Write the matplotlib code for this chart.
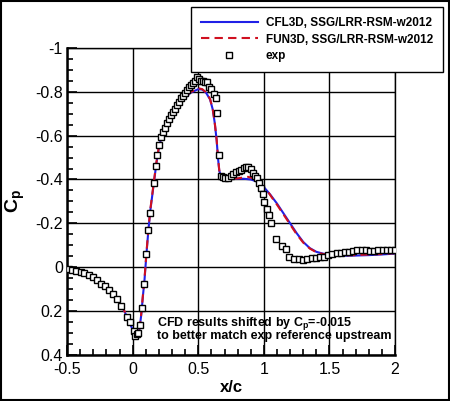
import matplotlib
matplotlib.use("Agg")
import matplotlib.pyplot as plt
from matplotlib.ticker import MultipleLocator, FuncFormatter
from matplotlib.patches import Rectangle

plt.rcParams['font.family'] = ['Liberation Sans', 'DejaVu Sans']
plt.rcParams['mathtext.fontset'] = 'custom'
plt.rcParams['mathtext.rm'] = 'Liberation Sans'
plt.rcParams['mathtext.bf'] = 'Liberation Sans:bold'

# CFL3D, SSG/LRR-RSM-w2012 (shifted)
cfl_x = [-0.5, -0.45, -0.4, -0.35, -0.3, -0.25, -0.2, -0.15, -0.1, -0.06,
         -0.03, 0.0, 0.02, 0.035, 0.05, 0.065, 0.08, 0.09, 0.105, 0.12,
         0.135, 0.15, 0.165, 0.18, 0.2, 0.22, 0.25, 0.3, 0.36, 0.44,
         0.5, 0.53, 0.56, 0.59, 0.61, 0.625, 0.64, 0.65, 0.66, 0.675,
         0.7, 0.75, 0.8, 0.85, 0.9, 0.95, 1.0, 1.05, 1.1, 1.15,
         1.2, 1.25, 1.3, 1.35, 1.4, 1.45, 1.5, 1.6, 1.7, 1.8, 1.9, 2.0]
cfl_cp = [0.005, 0.015, 0.024, 0.034, 0.048, 0.068, 0.095, 0.125, 0.16, 0.205,
          0.245, 0.285, 0.305, 0.312, 0.29, 0.22, 0.12, 0.06, -0.06, -0.17,
          -0.26, -0.33, -0.40, -0.47, -0.545, -0.595, -0.645, -0.70, -0.748, -0.795,
          -0.812, -0.81, -0.795, -0.765, -0.72, -0.66, -0.58, -0.50, -0.44, -0.41,
          -0.402, -0.403, -0.404, -0.403, -0.40, -0.39, -0.365, -0.33, -0.29, -0.245,
          -0.20, -0.155, -0.115, -0.087, -0.07, -0.062, -0.057, -0.052, -0.053, -0.055, -0.058, -0.062]

# FUN3D, SSG/LRR-RSM-w2012 (shifted)
fun_x = [-0.5, -0.45, -0.4, -0.35, -0.3, -0.25, -0.2, -0.15, -0.1, -0.06,
         -0.03, 0.0, 0.02, 0.035, 0.05, 0.065, 0.08, 0.09, 0.105, 0.12,
         0.135, 0.15, 0.165, 0.18, 0.2, 0.22, 0.25, 0.3, 0.36, 0.44,
         0.5, 0.53, 0.56, 0.59, 0.61, 0.625, 0.64, 0.65, 0.66, 0.675,
         0.7, 0.75, 0.8, 0.85, 0.88, 0.92, 0.96, 1.0, 1.03, 1.07, 1.1, 1.15,
         1.2, 1.25, 1.3, 1.35, 1.4, 1.45, 1.5, 1.6, 1.7, 1.8, 1.9, 2.0]
fun_cp = [0.004, 0.014, 0.023, 0.033, 0.047, 0.067, 0.094, 0.124, 0.158, 0.203,
          0.243, 0.283, 0.304, 0.311, 0.288, 0.215, 0.115, 0.055, -0.065, -0.175,
          -0.265, -0.335, -0.405, -0.475, -0.55, -0.598, -0.648, -0.703, -0.75, -0.798,
          -0.816, -0.812, -0.797, -0.767, -0.722, -0.662, -0.582, -0.502, -0.442, -0.412,
          -0.403, -0.404, -0.405, -0.41, -0.412, -0.405, -0.385, -0.36, -0.345, -0.31, -0.285, -0.24,
          -0.195, -0.15, -0.112, -0.085, -0.068, -0.06, -0.056, -0.054, -0.055, -0.058, -0.06, -0.064]

# experiment
exp_x = [-0.485, -0.460, -0.431, -0.396, -0.368, -0.335, -0.304, -0.271, -0.238, -0.208,
         -0.178, -0.147, -0.117, -0.086, -0.045, -0.022, 0.008, 0.018, 0.031, 0.044,
         0.056, 0.072, 0.089, 0.104, 0.119, 0.134, 0.165, 0.181, 0.189, 0.204,
         0.219, 0.234, 0.249, 0.264, 0.280, 0.295, 0.310, 0.325, 0.341, 0.356,
         0.371, 0.386, 0.402, 0.417, 0.432, 0.447, 0.463, 0.478, 0.488, 0.508,
         0.524, 0.539, 0.554, 0.569, 0.585, 0.600, 0.618, 0.633, 0.646, 0.661,
         0.674, 0.690, 0.704, 0.727, 0.750, 0.768, 0.788, 0.808, 0.829, 0.847,
         0.864, 0.882, 0.902, 0.915, 0.935, 0.950, 0.966, 0.981, 0.992, 1.004,
         1.020, 1.036, 1.052, 1.095, 1.135, 1.166, 1.195, 1.232, 1.266, 1.300,
         1.332, 1.365, 1.395, 1.428, 1.459, 1.492, 1.522, 1.555, 1.585, 1.619,
         1.649, 1.682, 1.713, 1.746, 1.777, 1.809, 1.840, 1.873, 1.904, 1.937,
         1.968, 2.000]
exp_cp = [0.009, 0.012, 0.017, 0.021, 0.027, 0.036, 0.047, 0.059, 0.075, 0.088,
          0.104, 0.123, 0.146, 0.176, 0.225, 0.252, 0.289, 0.313, 0.306, 0.298,
          0.265, 0.184, 0.078, -0.060, -0.170, -0.246, -0.384, -0.460, -0.513, -0.556,
          -0.596, -0.616, -0.637, -0.658, -0.676, -0.693, -0.710, -0.722, -0.739, -0.755,
          -0.773, -0.781, -0.796, -0.808, -0.821, -0.831, -0.842, -0.851, -0.869, -0.860,
          -0.851, -0.849, -0.846, -0.844, -0.821, -0.812, -0.792, -0.771, -0.702, -0.512,
          -0.416, -0.410, -0.409, -0.409, -0.418, -0.427, -0.433, -0.439, -0.444, -0.454,
          -0.459, -0.456, -0.447, -0.430, -0.416, -0.406, -0.384, -0.360, -0.335, -0.296,
          -0.265, -0.238, -0.201, -0.129, -0.097, -0.083, -0.048, -0.036, -0.036, -0.032,
          -0.036, -0.040, -0.042, -0.048, -0.048, -0.054, -0.059, -0.064, -0.064, -0.067,
          -0.071, -0.074, -0.079, -0.079, -0.079, -0.074, -0.074, -0.079, -0.079, -0.079,
          -0.079, -0.079]

fig = plt.figure(figsize=(4.5, 4.01), dpi=100)
ax = fig.add_axes([0.149, 0.115, 0.729, 0.7655])

ax.plot(cfl_x, cfl_cp, color='#2020e6', lw=1.5, label='CFL3D, SSG/LRR-RSM-w2012', zorder=3)
ax.plot(fun_x, fun_cp, color='#d01020', lw=1.5, ls=(0, (4, 2.5)), label='FUN3D, SSG/LRR-RSM-w2012', zorder=4)
ax.plot(exp_x, exp_cp, ls='none', marker='s', ms=4.3, mfc='white', mec='black', mew=1.0,
        label='exp', zorder=5)

ax.set_xlim(-0.5, 2.0)
ax.set_ylim(0.4, -1.0)

ax.xaxis.set_major_locator(MultipleLocator(0.5))
ax.xaxis.set_minor_locator(MultipleLocator(0.1))
ax.yaxis.set_major_locator(MultipleLocator(0.2))
ax.yaxis.set_minor_locator(MultipleLocator(0.05))
fmt = FuncFormatter(lambda v, p: '%g' % round(v, 3) if abs(v) > 1e-9 else '0')
ax.xaxis.set_major_formatter(fmt)
ax.yaxis.set_major_formatter(fmt)

ax.tick_params(which='both', direction='in', top=False, right=False, width=1.2)
ax.tick_params(which='major', length=7, labelsize=11.5)
ax.tick_params(which='minor', length=4)
ax.tick_params(axis='x', pad=5)
ax.tick_params(axis='y', pad=3)

ax.grid(True, which='major', color='black', lw=1.0)
ax.set_axisbelow(True)
for s in ['left', 'bottom']:
    ax.spines[s].set_linewidth(1.8)
for s in ['top', 'right']:
    ax.spines[s].set_linewidth(1.0)

ax.set_xlabel('x/c', fontsize=12, fontweight='bold', labelpad=2)
ax.set_ylabel(r'$\mathbf{C_p}$', fontsize=14, labelpad=6)

ax.text(0.186, 0.259, r'CFD results shifted by C$_\mathbf{p}$=-0.015',
        fontsize=9, fontweight='bold', va='center', ha='left', zorder=6)
ax.text(0.186, 0.313, 'to better match exp reference upstream',
        fontsize=9, fontweight='bold', va='center', ha='left', zorder=6)

leg = fig.legend(loc='upper left', bbox_to_anchor=(0.424, 0.8254, 0.56, 0.157), mode='expand',
                 borderaxespad=0, frameon=True, fancybox=False, edgecolor='black', framealpha=1,
                 handlelength=4.8, handletextpad=0.7, labelspacing=0.38, borderpad=0.85,
                 prop={'size': 8.5, 'weight': 'bold'})
leg.get_frame().set_linewidth(1.0)

fig.patches.append(Rectangle((0.002, 0.003), 0.995, 0.994, transform=fig.transFigure,
                             fill=False, edgecolor='black', lw=1.5))

fig.savefig('out.png', dpi=100)
